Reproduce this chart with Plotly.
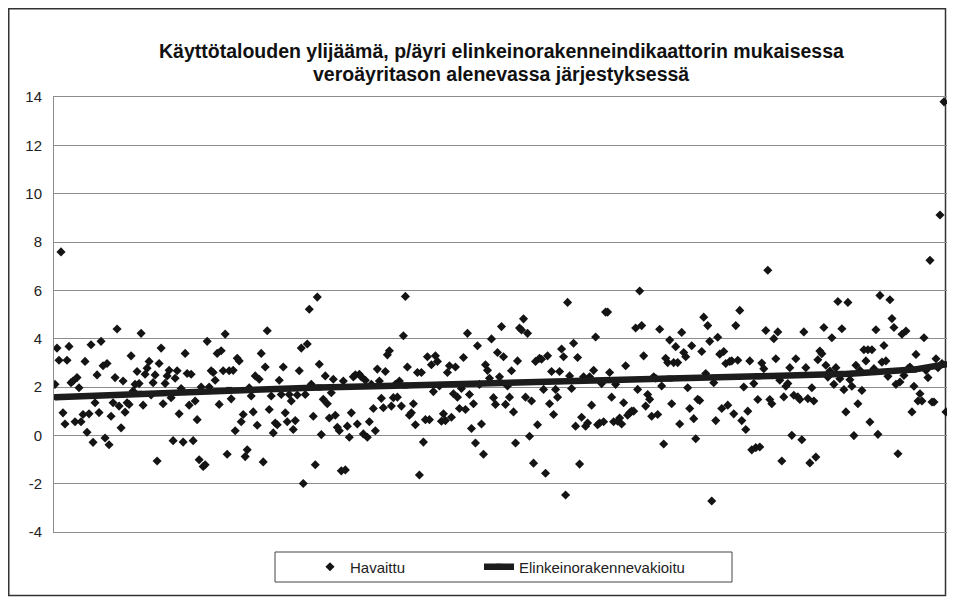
import plotly.graph_objects as go

# ---- data ----
havaittu_1 = [2.11, 3.61, 3.11, 7.59, 0.93, 0.47, 3.11, 3.68, 2.18, 2.25, 0.56, 2.39, 1.97, 0.56, 0.86, 3.06, 0.13, 0.89, 3.75, -0.29,
              1.35, 2.5, 0.94, 3.89, 2.88, -0.11, 2.97, -0.39, 0.79, 1.35, 2.39, 4.4, 1.21, 0.31, 2.25, 0.96, 1.35, 1.28, 3.29, 1.83,
              2.11, 2.64, 2.14, 4.22, 1.25, 2.53, 2.78, 3.06, 1.67, 2.18, 2.5, -1.06, 2.97, 3.61, 1.31, 2.15, 2.46, 2.69, 1.56, -0.22,
              2.36, 2.67, 0.89, 1.94, -0.28, 3.39, 2.56, 1.25, 2.53, -0.22, 1.42, 0.65, -1.01, 2.0, -1.29, -1.22, 3.89, 2.0, 2.67, 2.6,
              2.28, 3.39, 1.28, 3.5, 2.67, 4.19, -0.78]
havaittu_2 = [2.67, 1.51, 2.69, 0.19, 3.19, 3.08, 0.56, 0.86, -0.88, -0.6, 1.97, 1.63, 0.97, 2.46, 0.42, 2.32, 3.39, -1.1, 2.83, 4.33,
              1.07, 1.63, 0.1, 0.51, 0.44, 2.28, 1.69, 2.83, 0.93, 0.56, 1.69, 1.42, 0.24, 0.61, 1.67, 2.67, 3.61, -1.99, 1.69, 3.78,
              5.22, 2.11, 0.79, -1.22, 5.72, 2.94, 0.03, 1.49, 2.46, 1.31, 0.72, 1.76, 2.32, 0.83, 0.33, 0.19, -1.47, 2.25, -1.43, 0.38,
              -0.08, 0.93, 2.42, 2.5, 0.47, 2.53, 2.42, 0.06, 2.28, -0.08, 0.56, 2.11, 1.11, 0.19, 2.74, 2.25, 1.53, 1.14, 2.64, 3.33,
              3.5, 1.21, 1.56, 2.11]
havaittu_3 = [1.58, 2.25, 1.21, 4.12, 5.75, 2.83, 0.83, 0.93, 1.31, 0.44, 2.6, -1.64, 2.6, -0.28, 0.65, 3.25, 0.65, 2.92, 1.81, 3.29,
              3.06, 2.04, 0.58, 0.89, 0.61, 2.6, 2.88, 0.75, 1.72, 2.83, 1.58, 1.11, 1.94, 3.22, 1.07, 4.22, 1.69, 0.28, 1.31, -0.32,
              3.71, 2.11, 0.47, -0.78, 2.92, 2.69, 2.36, 3.99, 1.56, 1.28, 3.43, 2.42, 4.5, 3.25, 1.28, 2.04, 1.58, 2.67, 0.97, -0.32,
              3.08, 4.44, 4.36, 4.82, 1.58, 4.22, -0.04, 1.42, -1.15, 3.06, 0.44, 3.19, 3.15, 1.9, -1.57, 3.29, 1.31, 2.64, 0.86, 1.9,
              1.58, 2.64, 3.57, 3.25, -2.47, 5.5, 2.46, 1.94, 3.81, 0.38, 3.22, -1.19]
havaittu_4 = [0.75, 2.42, 0.38, 0.51, 2.42, 1.25, 2.69, 4.07, 0.44, 0.51, 2.14, 0.56, 5.1, 5.1, 2.6, 1.58, 0.56, 2.11, 0.58, 0.72,
              0.47, 1.35, 2.88, 0.83, 0.93, 1.0, 1.0, 4.44, 1.9, 5.97, 4.54, 3.29, 1.21, 1.69, 1.49, 0.79, 2.42, 2.36, 0.86, 4.39,
              2.04, -0.36, 3.19, 3.01, 3.94, 1.31, 3.01, 3.67, 3.01, 0.47, 4.26, 3.43, 3.25, 1.97, 1.11, 3.71, 0.69, -0.14, 1.49, 1.44,
              3.47, 4.89, 2.56, 4.54, 3.89, -2.72, 2.18, 0.61, 4.06, 3.36, 1.11, 3.47, 2.97, 1.25, 3.06, 3.08, 0.89, 4.54, 3.11, 5.17,
              0.61, 2.0, 0.24, 1.0, 3.08, -0.6]
havaittu_5 = [2.14, -0.51, 1.48, -0.48, 2.99, 2.76, 4.34, 6.83, 1.48, 1.31, 4.0, 3.17, 4.28, 2.28, -1.06, 1.59, 2.03, 2.14, 2.8, 0.0,
              1.66, 3.17, 1.59, 1.48, -0.18, 4.28, 2.8, 1.52, -1.14, 1.97, 1.42, -0.9, 3.13, 3.49, 3.38, 4.46, 2.9, 2.41, 2.66, 4.04,
              2.11, 2.8, 5.54, 2.34, 4.41, 1.89, 0.97, 5.5, 2.3, 2.03, -0.01, 2.9, 1.31, 2.69, 1.86, 3.54, 3.08, 3.54, 0.55, 3.54,
              2.76, 4.37, 0.04, 5.79, 3.03, 3.72, 3.08, 2.44, 5.61, 4.83, 4.46, 2.11, -0.76, 2.21, 4.18, 2.48, 4.32, 2.76, 2.83, 0.97,
              2.03, 3.35, 1.42, 1.72, 1.42, 4.04, 2.69, 2.39, 7.24, 1.38, 1.38, 3.17, 2.8, 9.12, 2.97, 13.8, 0.97]

# Elinkeinorakennevakioitu: values read at these category positions
vakioitu_idx = [0, 42, 87, 132, 175, 222, 263, 307, 351, 397, 429, 445]
vakioitu = [1.58, 1.72, 1.88, 1.98, 2.06, 2.18, 2.26, 2.35, 2.44, 2.55, 2.72, 2.94]

y_ticks = [-4, -2, 0, 2, 4, 6, 8, 10, 12, 14]

title_1 = "Käyttötalouden ylijäämä, p/äyri elinkeinorakenneindikaattorin mukaisessa"
title_2 = "veroäyritason alenevassa järjestyksessä"

havaittu = havaittu_1 + havaittu_2 + havaittu_3 + havaittu_4 + havaittu_5
n = len(havaittu)
x_idx = list(range(n))

# ---- geometry (page pixels; the page body has an 8 px margin) ----
OFF = 8
W, H = 955 - 2 * OFF, 605 - 2 * OFF
P_LEFT, P_RIGHT, P_TOP, P_BOTTOM = 54, 947, 97, 532
ML = P_LEFT - OFF
MR = W - (P_RIGHT - OFF)
MT = P_TOP - OFF
MB = H - (P_BOTTOM - OFF)
pw, ph = W - ML - MR, H - MT - MB


def px_x(p):
    return (p - OFF - ML) / pw


def px_y(p):
    return (H - MB - (p - OFF)) / ph


fig = go.Figure()
fig.add_trace(go.Scatter(
    x=x_idx, y=havaittu, mode="markers", name="Havaittu", legend="legend",
    marker=dict(symbol="diamond", size=7, color="#141414", line=dict(width=0)),
))
fig.add_trace(go.Scatter(
    x=vakioitu_idx, y=vakioitu, mode="lines+markers", name="Elinkeinorakennevakioitu", legend="legend2",
    line=dict(color="#1c1c1c", width=6.5),
    marker=dict(symbol="square", size=6, color="#1c1c1c"),
))

grid_col = "#8c8c8c"
title_font = dict(size=19.5, color="#111", family="Arial, Liberation Sans, sans-serif")
legend_common = dict(
    orientation="h", xanchor="left", y=px_y(567), yanchor="middle",
    borderwidth=0, bgcolor="rgba(0,0,0,0)",
    font=dict(size=15, color="#222"), itemwidth=30,
)

fig.update_layout(
    width=W, height=H,
    margin=dict(l=ML, r=MR, t=MT, b=MB, pad=0, autoexpand=False),
    paper_bgcolor="white", plot_bgcolor="white",
    font=dict(family="Arial, Liberation Sans, sans-serif", color="#222"),
    showlegend=True,
    legend=dict(x=px_x(310), **legend_common),
    legend2=dict(x=px_x(479), **legend_common),
    annotations=[
        dict(text="<b>" + title_1 + "</b>", xref="paper", yref="paper",
             x=px_x(501), y=px_y(51), xanchor="center", yanchor="middle",
             showarrow=False, font=title_font),
        dict(text="<b>" + title_2 + "</b>", xref="paper", yref="paper",
             x=px_x(501), y=px_y(74), xanchor="center", yanchor="middle",
             showarrow=False, font=title_font),
    ],
    shapes=[
        dict(type="rect", xref="paper", yref="paper",
             x0=px_x(OFF + 0.75), x1=px_x(955 - OFF - 1.5), y0=px_y(605 - OFF - 1.5), y1=px_y(OFF + 0.75),
             line=dict(color="#333", width=1.5), layer="below"),
        dict(type="rect", xref="paper", yref="paper",
             x0=px_x(275), x1=px_x(732), y0=px_y(582), y1=px_y(552),
             line=dict(color="#444", width=1), layer="below"),
    ],
)
fig.update_xaxes(
    range=[-0.5, n - 0.5], showticklabels=False, showgrid=False, zeroline=False,
    showline=True, mirror=True, linecolor=grid_col, linewidth=1, ticks="",
)
fig.update_yaxes(
    range=[-4, 14], tickvals=y_ticks, ticktext=[str(v) for v in y_ticks],
    showgrid=True, gridcolor=grid_col, gridwidth=1, zeroline=False,
    showline=True, mirror=True, linecolor=grid_col, linewidth=1,
    ticks="", ticklabelstandoff=8, tickfont=dict(size=15, color="#222"),
)

fig.write_html("out.html")
